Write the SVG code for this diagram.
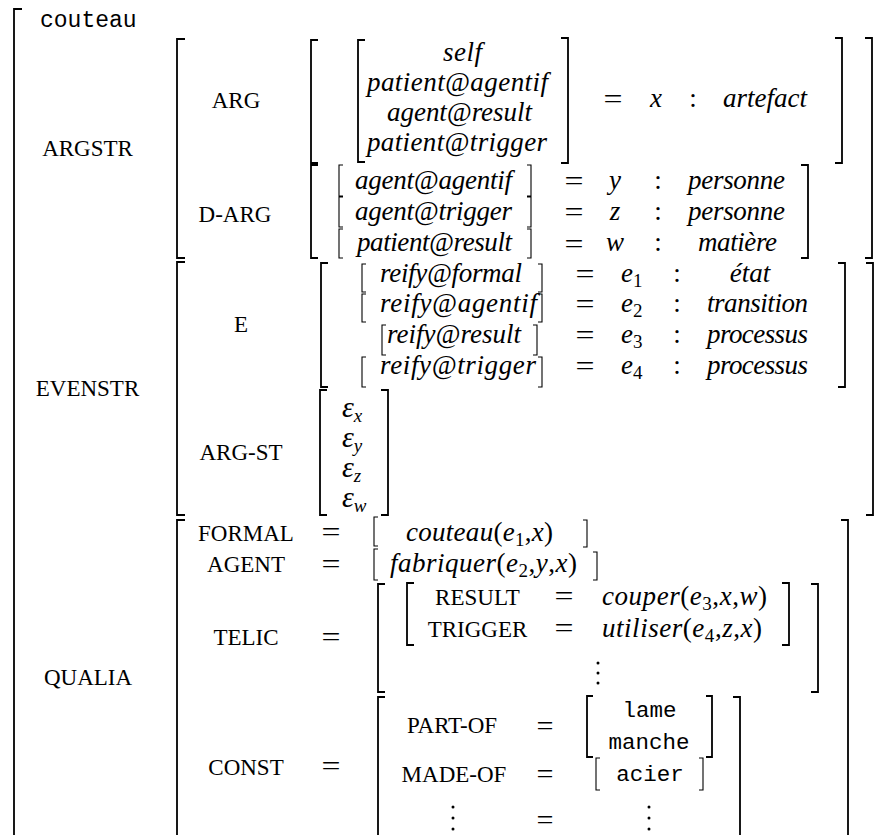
<svg xmlns="http://www.w3.org/2000/svg" width="896" height="835" viewBox="0 0 896 835">
<style>
.br{fill:none;stroke:#000;stroke-width:1.8}
.bs{fill:none;stroke:#000;stroke-width:1.1}
.lb{font-family:"Liberation Serif",serif;font-size:23px;text-anchor:middle;fill:#000}
.eq{font-family:"Liberation Serif",serif;font-size:28px;text-anchor:middle;fill:#000}
.op{font-family:"Liberation Serif",serif;font-size:27px;text-anchor:middle;fill:#000}
.it{font-family:"Liberation Serif",serif;font-style:italic;font-size:27px;fill:#000}
.itm{font-family:"Liberation Serif",serif;font-style:italic;font-size:27px;text-anchor:middle;fill:#000}
.up{font-style:normal}
.sub{font-size:19px;font-style:normal}
.subi{font-size:19px;font-style:italic}
.mono{font-family:"Liberation Mono",monospace;font-size:23px;fill:#000}
.monom{font-family:"Liberation Mono",monospace;font-size:22.5px;text-anchor:middle;fill:#000}
.eps{font-family:"Liberation Serif",serif;font-style:italic;font-size:30px;fill:#000}
.dot{fill:#000}
</style>

<g id="root">
  <path class="br" d="M22,9H14V840"/>
  <text class="mono" x="40" y="27">couteau</text>
</g>

<g id="argstr">
  <text class="lb" x="87.5" y="156">ARGSTR</text>
  <path class="br" d="M185,39H177V258H185"/>
  <path class="br" d="M865,38H872V258H865"/>
  <g id="arg">
    <text class="lb" x="236" y="108">ARG</text>
    <path class="br" d="M318,40H311V163H318"/>
    <path class="br" d="M835,38H842V163H835"/>
    <path class="br" d="M365,40H358V162H365"/>
    <path class="br" d="M561,38H568V163H561"/>
    <text class="it" x="443" y="61" textLength="39" lengthAdjust="spacing">self</text>
    <text class="it" x="367" y="91" textLength="181" lengthAdjust="spacing">patient@agentif</text>
    <text class="it" x="387" y="121" textLength="145" lengthAdjust="spacing">agent@result</text>
    <text class="it" x="367" y="151" textLength="180" lengthAdjust="spacing">patient@trigger</text>
    <text class="eq" x="613" y="108" textLength="19" lengthAdjust="spacingAndGlyphs">=</text>
    <text class="itm" x="656" y="107">x</text>
    <text class="op" x="693" y="107">:</text>
    <text class="it" x="723" y="107" textLength="84" lengthAdjust="spacing">artefact</text>
  </g>
  <g id="d-arg">
    <text class="lb" x="235" y="222">D-ARG</text>
    <path class="br" d="M318,165H311V258H318"/>
    <path class="br" d="M801,165H808V258H801"/>
    <path class="bs" d="M343,165H339V196H343M343,197H339V227H343M343,229H339V258H343"/>
    <path class="bs" d="M527,165H531V196H527M527,197H531V227H527M527,229H531V258H527"/>
    <text class="it" x="355" y="188.5" textLength="157" lengthAdjust="spacing">agent@agentif</text>
    <text class="it" x="355" y="219.5" textLength="157" lengthAdjust="spacing">agent@trigger</text>
    <text class="it" x="357" y="251" textLength="155" lengthAdjust="spacing">patient@result</text>
    <text class="eq" x="574" y="190" textLength="19" lengthAdjust="spacingAndGlyphs">=</text>
    <text class="eq" x="574" y="221" textLength="19" lengthAdjust="spacingAndGlyphs">=</text>
    <text class="eq" x="574" y="253" textLength="19" lengthAdjust="spacingAndGlyphs">=</text>
    <text class="itm" x="615" y="188.5">y</text>
    <text class="itm" x="615" y="219.5">z</text>
    <text class="itm" x="615" y="251">w</text>
    <text class="op" x="658" y="188.5">:</text>
    <text class="op" x="658" y="219.5">:</text>
    <text class="op" x="658" y="251">:</text>
    <text class="it" x="688" y="188.5" textLength="97" lengthAdjust="spacing">personne</text>
    <text class="it" x="688" y="219.5" textLength="97" lengthAdjust="spacing">personne</text>
    <text class="it" x="698" y="251" textLength="79" lengthAdjust="spacing">matière</text>
  </g>
</g>

<g id="evenstr">
  <text class="lb" x="87.5" y="396">EVENSTR</text>
  <path class="br" d="M185,262H177V515H185"/>
  <path class="br" d="M866,263H873V515H866"/>
  <g id="e">
    <text class="lb" x="241" y="332">E</text>
    <path class="br" d="M328,263H321V387H328"/>
    <path class="br" d="M838,263H845V387H838"/>
    <path class="bs" d="M366,264H362V292H366M366,294H362V322H366M386,325H382V355H386M366,357H362V387H366"/>
    <path class="bs" d="M538,264H542V292H538M538,294H542V322H538M533,325H537V355H533M538,357H542V387H538"/>
    <text class="it" x="380" y="282" textLength="142" lengthAdjust="spacing">reify@formal</text>
    <text class="it" x="380" y="312" textLength="157" lengthAdjust="spacing">reify@agentif</text>
    <text class="it" x="387" y="343" textLength="134" lengthAdjust="spacing">reify@result</text>
    <text class="it" x="380" y="374" textLength="156" lengthAdjust="spacing">reify@trigger</text>
    <text class="eq" x="585" y="283" textLength="19" lengthAdjust="spacingAndGlyphs">=</text>
    <text class="eq" x="585" y="313" textLength="19" lengthAdjust="spacingAndGlyphs">=</text>
    <text class="eq" x="585" y="344" textLength="19" lengthAdjust="spacingAndGlyphs">=</text>
    <text class="eq" x="585" y="375" textLength="19" lengthAdjust="spacingAndGlyphs">=</text>
    <text class="it" x="621" y="282">e<tspan class="sub" dy="5">1</tspan></text>
    <text class="it" x="621" y="312">e<tspan class="sub" dy="5">2</tspan></text>
    <text class="it" x="621" y="343">e<tspan class="sub" dy="5">3</tspan></text>
    <text class="it" x="621" y="374">e<tspan class="sub" dy="5">4</tspan></text>
    <text class="op" x="677" y="282">:</text>
    <text class="op" x="677" y="312">:</text>
    <text class="op" x="677" y="343">:</text>
    <text class="op" x="677" y="374">:</text>
    <text class="itm" x="750" y="282">état</text>
    <text class="it" x="707" y="312" textLength="101" lengthAdjust="spacing">transition</text>
    <text class="it" x="707" y="343" textLength="101" lengthAdjust="spacing">processus</text>
    <text class="it" x="707" y="374" textLength="101" lengthAdjust="spacing">processus</text>
  </g>
  <g id="arg-st">
    <text class="lb" x="241" y="460">ARG-ST</text>
    <path class="br" d="M327,390H320V515H327"/>
    <path class="br" d="M381,390H388V515H381"/>
    <text class="eps" x="342" y="417">ε<tspan class="subi" dy="5">x</tspan></text>
    <text class="eps" x="342" y="447">ε<tspan class="subi" dy="5">y</tspan></text>
    <text class="eps" x="342" y="477">ε<tspan class="subi" dy="5">z</tspan></text>
    <text class="eps" x="342" y="507">ε<tspan class="subi" dy="5">w</tspan></text>
  </g>
</g>

<g id="qualia">
  <text class="lb" x="88" y="685">QUALIA</text>
  <path class="br" d="M185,520H177V840"/>
  <path class="br" d="M841,520H848V840"/>
  <g id="formal">
    <text class="lb" x="246" y="541">FORMAL</text>
    <text class="eq" x="331" y="541" textLength="19" lengthAdjust="spacingAndGlyphs">=</text>
    <path class="bs" d="M378,517H374V546H378"/>
    <path class="bs" d="M583,520H587V547H583"/>
    <text class="it" x="406" y="541" textLength="147" lengthAdjust="spacing">couteau<tspan class="up">(</tspan>e<tspan class="sub" dy="5">1</tspan><tspan class="up" dy="-5">,</tspan>x<tspan class="up">)</tspan></text>
  </g>
  <g id="agent">
    <text class="lb" x="246" y="572">AGENT</text>
    <text class="eq" x="331" y="573" textLength="19" lengthAdjust="spacingAndGlyphs">=</text>
    <path class="bs" d="M378,549H374V580H378"/>
    <path class="bs" d="M593,552H597V580H593"/>
    <text class="it" x="390" y="572" textLength="187" lengthAdjust="spacing">fabriquer<tspan class="up">(</tspan>e<tspan class="sub" dy="5">2</tspan><tspan class="up" dy="-5">,</tspan>y<tspan class="up">,</tspan>x<tspan class="up">)</tspan></text>
  </g>
  <g id="telic">
    <text class="lb" x="246" y="645">TELIC</text>
    <text class="eq" x="331" y="646" textLength="19" lengthAdjust="spacingAndGlyphs">=</text>
    <path class="br" d="M385,584H378V692H385"/>
    <path class="br" d="M811,584H818V692H811"/>
    <path class="br" d="M414,583H407V645H414"/>
    <path class="br" d="M782,583H789V645H782"/>
    <text class="lb" x="477.5" y="605">RESULT</text>
    <text class="lb" x="477.5" y="637">TRIGGER</text>
    <text class="eq" x="564" y="605" textLength="19" lengthAdjust="spacingAndGlyphs">=</text>
    <text class="eq" x="564" y="637" textLength="19" lengthAdjust="spacingAndGlyphs">=</text>
    <text class="it" x="602" y="605" textLength="165" lengthAdjust="spacing">couper<tspan class="up">(</tspan>e<tspan class="sub" dy="5">3</tspan><tspan class="up" dy="-5">,</tspan>x<tspan class="up">,</tspan>w<tspan class="up">)</tspan></text>
    <text class="it" x="602" y="637" textLength="160" lengthAdjust="spacing">utiliser<tspan class="up">(</tspan>e<tspan class="sub" dy="5">4</tspan><tspan class="up" dy="-5">,</tspan>z<tspan class="up">,</tspan>x<tspan class="up">)</tspan></text>
    <circle class="dot" cx="598" cy="663" r="1.5"/>
    <circle class="dot" cx="598" cy="673" r="1.5"/>
    <circle class="dot" cx="598" cy="683" r="1.5"/>
  </g>
  <g id="const">
    <text class="lb" x="246" y="775">CONST</text>
    <text class="eq" x="331" y="775" textLength="19" lengthAdjust="spacingAndGlyphs">=</text>
    <path class="br" d="M385,697H378V840"/>
    <path class="br" d="M733,697H740V840"/>
    <text class="lb" x="452" y="733">PART-OF</text>
    <text class="lb" x="454" y="782">MADE-OF</text>
    <circle class="dot" cx="453" cy="807" r="1.5"/>
    <circle class="dot" cx="453" cy="818" r="1.5"/>
    <circle class="dot" cx="453" cy="829" r="1.5"/>
    <text class="eq" x="545" y="735" textLength="17" lengthAdjust="spacingAndGlyphs">=</text>
    <text class="eq" x="545" y="783" textLength="17" lengthAdjust="spacingAndGlyphs">=</text>
    <text class="eq" x="545" y="829" textLength="17" lengthAdjust="spacingAndGlyphs">=</text>
    <path class="br" d="M593,696H587V757H593"/>
    <path class="br" d="M706,696H712V757H706"/>
    <text class="monom" x="649.5" y="717">lame</text>
    <text class="monom" x="649" y="749">manche</text>
    <path class="bs" d="M600,758H596V790H600"/>
    <path class="bs" d="M699,758H703V790H699"/>
    <text class="monom" x="650" y="781">acier</text>
    <circle class="dot" cx="649" cy="807" r="1.5"/>
    <circle class="dot" cx="649" cy="818" r="1.5"/>
    <circle class="dot" cx="649" cy="829" r="1.5"/>
  </g>
</g>
</svg>
